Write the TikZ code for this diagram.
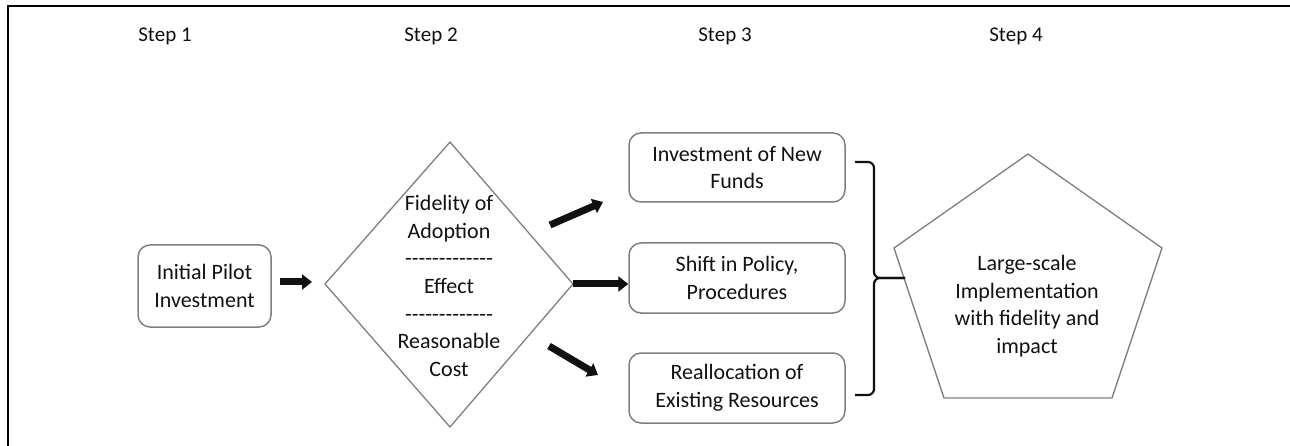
\documentclass[tikz,border=0pt]{standalone}
\usepackage{fontspec}
\setmainfont{Carlito}
\usetikzlibrary{arrows.meta}
\definecolor{edge}{HTML}{7F7F7F}
\definecolor{ink}{HTML}{111111}
\newcommand\hyph{-\kern0pt}
\newcommand\dashrow{\hyph\hyph\hyph\hyph\hyph\hyph\hyph\hyph\hyph\hyph\hyph\hyph\hyph}
\tikzset{
  txt/.style={font=\fontsize{22}{27.6}\selectfont, text=ink, align=center},
  steplabel/.style={font=\fontsize{21}{26}\selectfont, text=ink},
  stepbox/.style={draw=edge, line width=1.5pt, rounded corners=12pt, txt, inner sep=0pt},
  outline/.style={draw=edge, line width=1.3pt, line join=miter},
  fat/.style={line width=7pt, -{Triangle[length=10pt,width=15pt]}, ink},
  brk/.style={line width=2.2pt, rounded corners=6pt, ink},
  frame/.style={line width=2pt, black}
}
\begin{document}
\begin{tikzpicture}[x=1pt,y=-1pt]
\useasboundingbox (0,0) rectangle (1290,446);
% frame
\draw[frame] (1290,6) -- (8,6) -- (8,446);
% step labels
\node[steplabel] (s1) at (165,36) {Step 1};
\node[steplabel] (s2) at (431,36) {Step 2};
\node[steplabel] (s3) at (725,36) {Step 3};
\node[steplabel] (s4) at (1016,36) {Step 4};
% step 1
\node[stepbox, minimum width=133pt, minimum height=82pt] (pilot) at (204.5,286) {Initial Pilot\\Investment};
% step 2 diamond
\coordinate (dT) at (450,142);
\coordinate (dL) at (325,284);
\coordinate (dR) at (573,284);
\coordinate (dB) at (450,427);
\draw[outline] (dT) -- (dR) -- (dB) -- (dL) -- cycle;
\node[txt] (dtext) at (449,286) {Fidelity of\\Adoption\\\dashrow\\Effect\\\dashrow\\Reasonable\\Cost};
% step 3 boxes
\node[stepbox, minimum width=216pt, minimum height=69pt] (b1) at (737,167.5) {Investment of New\\Funds};
\node[stepbox, minimum width=216pt, minimum height=70pt] (b2) at (737,278) {Shift in Policy,\\Procedures};
\node[stepbox, minimum width=216pt, minimum height=70pt] (b3) at (737,388) {Reallocation of\\Existing Resources};
% step 4 pentagon
\coordinate (pT) at (1028,154);
\coordinate (pR) at (1162,248);
\coordinate (pBR) at (1112,398);
\coordinate (pBL) at (944,398);
\coordinate (pL) at (894,248);
\draw[outline] (pT) -- (pR) -- (pBR) -- (pBL) -- (pL) -- cycle;
\node[txt] (ptext) at (1027,306) {Large-scale\\Implementation\\with fidelity and\\impact};
% arrows
\coordinate (a1s) at (280,282);
\coordinate (a1e) at (312,282);
\draw[fat] (a1s) -- (a1e);
\coordinate (a2s) at (550,225);
\coordinate (a2e) at (603,202);
\draw[fat] (a2s) -- (a2e);
\draw[fat] (dR) -- (dR -| b2.west);
\coordinate (a4s) at (549,346);
\coordinate (a4e) at (598,375);
\draw[fat] (a4s) -- (a4e);
% bracket
\coordinate (kT) at (855,162);
\coordinate (kB) at (855,395);
\coordinate (kM) at (874,278);
\coordinate (kE) at (905,278);
\draw[brk] (kT) -| (kM) -- (kE);
\draw[brk] (kB) -| (kM) -- (kE);
\end{tikzpicture}
\end{document}
